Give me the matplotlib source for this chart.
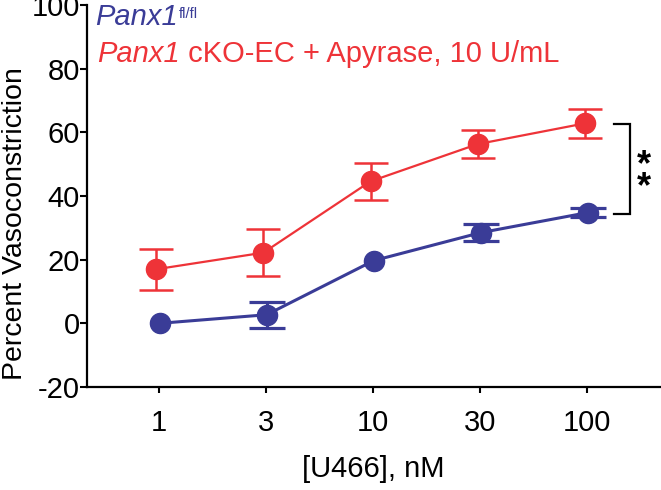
import matplotlib
matplotlib.use("Agg")
import matplotlib.pyplot as plt
import numpy as np

plt.rcParams['font.family'] = ['Liberation Sans', 'DejaVu Sans']

# Data
categories = ['1', '3', '10', '30', '100']
red_values = [17.0, 22.2, 44.6, 56.3, 62.8]
red_errors = [6.5, 7.4, 5.8, 4.5, 4.6]
blue_values = [0.0, 2.7, 19.7, 28.5, 34.8]
blue_errors = [np.nan, 4.1, np.nan, 2.7, 1.4]   # bars hidden behind symbol
y_ticks = [-20, 0, 20, 40, 60, 80, 100]

RED = '#EE3338'
BLUE = '#3A3C97'

fig = plt.figure(figsize=(6.61, 4.90), dpi=100)
ax = fig.add_axes([87/661, 1-387/490, 1-87/661, (387-5)/490])

xs = list(range(len(categories)))
xr = [x - 0.025 for x in xs]
xb = [x + 0.005 for x in xs]

ax.errorbar(xr, red_values, yerr=red_errors, color=RED, lw=1.6, marker='o',
            ms=14.5, capsize=12.5, capthick=1.8, elinewidth=1.8, zorder=3)
ax.errorbar(xb, blue_values, yerr=blue_errors, color=BLUE, lw=2.2, marker='o',
            ms=14.5, capsize=13, capthick=2.3, elinewidth=2.3, zorder=3)

# significance bracket
ax.plot([4.25, 4.393, 4.393, 4.25], [62.6, 62.6, 34.3, 34.3], color='black',
        lw=1.6, clip_on=False, solid_joinstyle='miter')
ax.text(4.525, 46.0, '*\n*', fontsize=26, fontweight='bold', ha='center',
        va='center', linespacing=0.52)

ax.set_xlim(-0.672, 4.687)
ax.set_ylim(-20, 100)
ax.set_xticks(xs)
ax.set_xticklabels(categories, fontsize=21)
ax.set_yticks(y_ticks)
ax.set_yticklabels([str(t) for t in y_ticks], fontsize=21)

for s in ['top', 'right']:
    ax.spines[s].set_visible(False)
for s in ['left', 'bottom']:
    ax.spines[s].set_linewidth(1.6)

ax.tick_params(axis='y', length=5, width=1.5, pad=0.3)
ax.tick_params(axis='x', length=4.5, width=1.5, pad=11)

ax.set_ylabel('Percent Vasoconstriction', fontsize=20.5)
ax.yaxis.set_label_coords(-0.125, 0.427)
ax.yaxis.label.set_va('center')
ax.set_xlabel('[U466], nM', fontsize=21)
ax.xaxis.set_label_coords(0.498, -0.215)
ax.xaxis.label.set_va('center')

# legend-like labels
t1 = fig.text(95/661, 1-25/490, 'Panx1', style='italic', color=BLUE,
              fontsize=21, ha='left', va='baseline')
ax.annotate('fl/fl', xy=(1, 1), xycoords=t1, xytext=(1, -3),
            textcoords='offset points', color=BLUE, fontsize=10.5,
            ha='left', va='top')
t2 = fig.text(97/661, 1-61.7/490, 'Panx1', style='italic', color=RED,
              fontsize=21, ha='left', va='baseline')
ax.annotate(' cKO-EC + Apyrase, 10 U/mL', xy=(1, 0), xycoords=t2,
            color=RED, fontsize=21, ha='left', va='bottom')

fig.savefig('out.png', dpi=100)
